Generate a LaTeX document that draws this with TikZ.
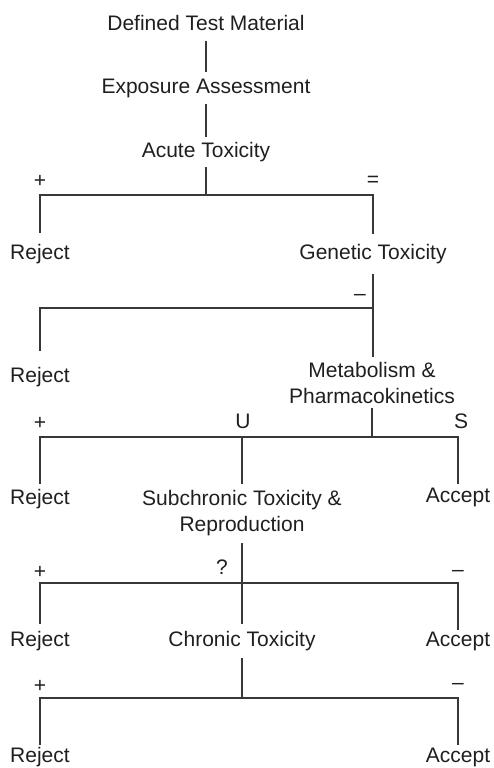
\documentclass[tikz,border=0pt]{standalone}
\usepackage{fontspec}
\setmainfont{Liberation Sans}
\usetikzlibrary{positioning}

\begin{document}
\begin{tikzpicture}[x=1pt,y=-1pt,line join=miter,
    stage/.style={inner sep=0pt,minimum height=36pt,align=center,font=\fontsize{21}{26}\selectfont,text=black!88},
    sign/.style={inner sep=0pt,font=\fontsize{21}{26}\selectfont,text=black!88},
    bar/.style={line width=1.2pt,draw=black!78}]
    \useasboundingbox (0,0) rectangle (494,768);
    % stages of the scheme
    \node[stage] (dtm) at (206,23) {Defined Test Material};
    \node[stage,minimum height=31pt] (exp) at (206,88) {Exposure Assessment};
    \node[stage,minimum height=30pt] (acute) at (206,152) {Acute Toxicity};
    \node[stage,minimum height=42pt] (rej1) at (40,254) {Reject};
    \node[stage,minimum height=40pt] (gen) at (373,254) {Genetic Toxicity};
    \node[stage,minimum height=52pt] (rej2) at (40,377) {Reject};
    \node[stage,minimum height=51pt] (met) at (372,382.5) {Metabolism \&\\Pharmacokinetics};
    \node[stage,minimum height=30pt] (rej3) at (40,499) {Reject};
    \node[stage,minimum height=59pt] (sub) at (242,513.5) {Subchronic Toxicity \&\\Reproduction};
    \node[stage,minimum height=26pt] (acc1) at (458,497) {Accept};
    \node[stage,minimum height=34pt] (rej4) at (40,641) {Reject};
    \node[stage,minimum height=34pt] (chron) at (242,641) {Chronic Toxicity};
    \node[stage,minimum height=22pt] (acc2) at (458,641) {Accept};
    \node[stage,minimum height=24pt] (rej5) at (40,757) {Reject};
    \node[stage,minimum height=24pt] (acc3) at (458,757) {Accept};
    % outcome signs
    \foreach \n/\x/\y/\s in {pa/40/181/+, eqa/373/181/=, mia/360/297/–, pb/40/423/+, ub/243/421/U, sb/461/421/S,
        pc/40/572/+, qc/222/567/?, mic/458/573/–, pd/40/686/+, mid/458/686/–}
    \node[sign] (\n) at (\x,\y) {\s};
    % junctions
    \coordinate (j1) at (206,195);
    \coordinate (j2) at (373,308);
    \coordinate (j3) at (372,437);
    \coordinate (j4) at (242,583);
    \coordinate (j5) at (242,698);
    \draw[bar] (dtm) -- (exp);
    \draw[bar] (exp) -- (acute);
    \draw[bar] (acute) -- (j1);
    \draw[bar] (rej1.north) |- (j1) -| (gen.north);
    \draw[bar] (gen.south) -- (gen.south |- met.north);
    \draw[bar] (rej2.north) |- (j2);
    \draw[bar] (met.south) -- (j3);
    \draw[bar] (rej3.north) |- (acc1.north |- j3) -- (acc1.north);
    \draw[bar] (sub.north |- j3) -- (sub.north);
    \draw[bar] (sub) -- (chron);
    \draw[bar] (rej4.north) |- (acc2.north |- j4) -- (acc2.north);
    \draw[bar] (chron) -- (j5);
    \draw[bar] (rej5.north) |- (acc3.north |- j5) -- (acc3.north);
\end{tikzpicture}
\end{document}
